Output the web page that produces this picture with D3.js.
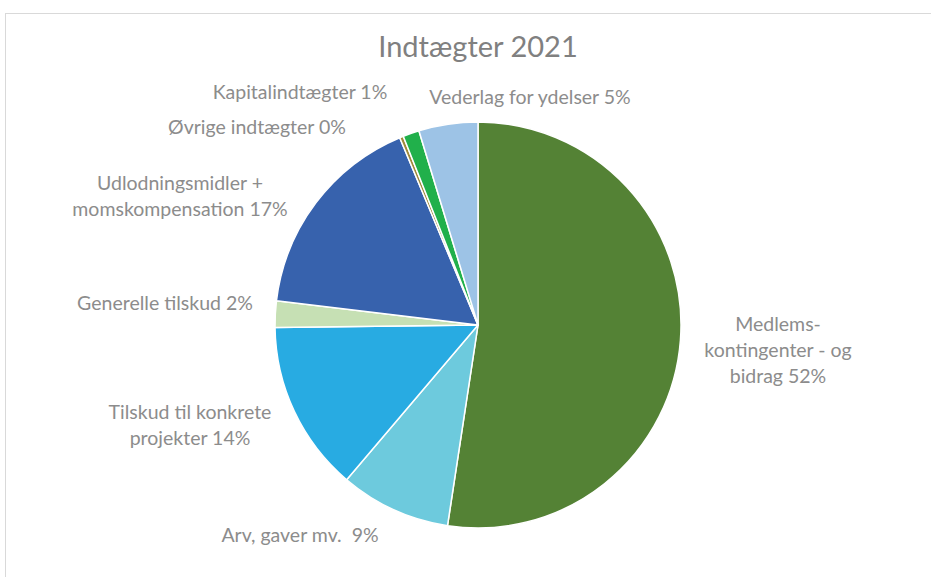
<!DOCTYPE html>
<html lang="da">
<head>
    <meta charset="UTF-8">
    <title>Indtægter 2021</title>
    <script src="https://d3js.org/d3.v7.min.js" charset="utf-8"></script>
    <style>
        body { margin: 0; background: #fff; }
        svg { display: block; }
        .label { white-space: pre; }
    </style>
</head>
<body>
    <div id="pie_chart"></div>
    <script>
        // Categories (clockwise from 12 o'clock) and their shares in percent
        var categories = [
            'Medlemskontingenter', 'Arv', 'Tilskud', 'Generelle',
            'Udlodning', 'Øvrige', 'Kapital', 'Vederlag'
        ];
        var shares = [52.4, 8.8, 13.6, 2.1, 16.8, 0.3, 1.3, 4.7];
        var labelLines = [
            ['Medlems-', 'kontingenter - og', 'bidrag 52%'],
            ['Arv, gaver mv.  9%'],
            ['Tilskud til konkrete', 'projekter 14%'],
            ['Generelle tilskud 2%'],
            ['Udlodningsmidler +', 'momskompensation 17%'],
            ['Øvrige indtægter 0%'],
            ['Kapitalindtægter 1%'],
            ['Vederlag for ydelser 5%']
        ];
        var colors = ['#548235', '#6dcadd', '#28abe2', '#c6e0b4', '#3762ad', '#a08a3a', '#21b04b', '#9dc3e6'];

        // label anchor points (centre of text block), read from the layout
        var labelPos = [[778, 350], [300, 535], [190, 425], [165, 303], [180, 196], [257, 127], [300, 92], [530, 97]];

        var svgWidth = 931, svgHeight = 577;
        var cx = 478, cy = 325, radius = 203;

        var svg = d3.select('#pie_chart')
                    .append('svg')
                    .attr('width', svgWidth)
                    .attr('height', svgHeight);

        // chart area frame
        svg.append('rect')
            .attr('x', 5.5).attr('y', 13.5)
            .attr('width', svgWidth).attr('height', svgHeight)
            .attr('fill', 'none')
            .attr('stroke', '#d9d9d9');

        var data = categories.map((c, i) => ({ key: c, value: shares[i], i: i }));

        var pie = d3.pie().sort(null).value(d => d.value);
        var arc = d3.arc().innerRadius(0).outerRadius(radius);
        var colorScale = d3.scaleOrdinal().domain(categories).range(colors);

        var g = svg.append('g').attr('transform', 'translate(' + cx + ',' + cy + ')');

        g.selectAll('path')
            .data(pie(data))
            .enter()
            .append('path')
            .attr('d', arc)
            .attr('fill', d => colorScale(d.data.key))
            .attr('stroke', '#fff')
            .attr('stroke-width', 1.5)
            .attr('stroke-linejoin', 'round');

        // title
        svg.append('text')
            .attr('x', 478)
            .attr('y', 57)
            .attr('text-anchor', 'middle')
            .style('font-family', 'Lato, "Open Sans", sans-serif')
            .style('font-size', '29px')
            .style('fill', '#808080')
            .text('Indtægter 2021');

        // data labels
        var lineH = 26;
        var labels = svg.selectAll('.label')
            .data(data)
            .enter()
            .append('text')
            .attr('class', 'label')
            .attr('text-anchor', 'middle')
            .style('font-family', 'Lato, "Open Sans", sans-serif')
            .style('font-size', '19.5px')
            .style('fill', '#8c8c8c');

        labels.each(function(d) {
            var lines = labelLines[d.i];
            var p = labelPos[d.i];
            var top = p[1] - (lines.length - 1) * lineH / 2;
            d3.select(this).selectAll('tspan')
                .data(lines)
                .enter()
                .append('tspan')
                .attr('x', p[0])
                .attr('y', (l, j) => top + j * lineH)
                .attr('dy', '0.35em')
                .text(l => l);
        });
    </script>
</body>
</html>
